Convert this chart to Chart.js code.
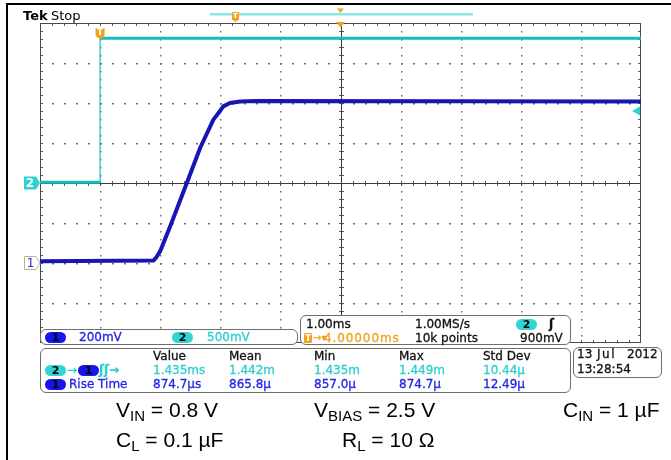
<!DOCTYPE html>
<html><head><meta charset="utf-8">
<script src="https://cdn.jsdelivr.net/npm/chart.js@4.4.1/dist/chart.umd.min.js"></script>
<style>
html,body{margin:0;padding:0;background:#fff;}
#wrap{position:relative;width:671px;height:460px;overflow:hidden;background:#fff;}
#c{position:absolute;left:0;top:0;}
.frame{position:absolute;left:6px;top:3px;width:700px;height:500px;border-top:2px solid #000;border-left:2px solid #000;}
.t{position:absolute;font-family:"DejaVu Sans",sans-serif;font-size:12px;line-height:14px;white-space:pre;-webkit-text-stroke:0.3px currentColor;}
.box{position:absolute;border:1px solid #6e6e6e;border-radius:6px;background:#fff;box-sizing:border-box;}
.pill{position:absolute;height:11px;border-radius:6px;text-align:center;color:#000;font-family:"DejaVu Sans",sans-serif;font-weight:bold;font-size:11px;line-height:11px;}
.ann{position:absolute;font-family:"Liberation Sans",Arial,sans-serif;font-size:21px;line-height:24px;white-space:pre;color:#000;}
.ann .s{font-size:15px;position:relative;top:4px;}
</style></head>
<body><div id="wrap"><div class="frame"></div><canvas id="c" width="671" height="460"></canvas></div>
<script>
// ---------- values ----------
const ch1TimeMs = [-1, 0.887, 0.94, 0.998, 1.165, 1.443, 1.664, 1.885, 1.97, 2.05, 2.16, 2.33, 2.6, 9];
const ch1Volts  = [0.009, 0.012, 0.03, 0.058, 0.183, 0.40, 0.575, 0.717, 0.75, 0.783, 0.80, 0.808, 0.81, 0.808];
const ch2TimeMs = [-1, 0, 0, 9];
const ch2Volts  = [0.008, 0.008, 1.81, 1.81];
const channelScales = ['200mV', '500mV'];
const timebase = ['1.00ms', '1.00MS/s', '4.00000ms', '10k points', '900mV'];
const measHeaders = ['Value', 'Mean', 'Min', 'Max', 'Std Dev'];
const delayValues = ['1.435ms', '1.442m', '1.435m', '1.449m', '10.44\u00b5'];
const riseValues  = ['874.7\u00b5s', '865.8\u00b5', '857.0\u00b5', '874.7\u00b5', '12.49\u00b5'];
const dateLines = ['13', 'Jul', '2012', '13:28:54'];
const condMain = ['V', 'V', 'C', 'C', 'R'];
const condSub  = ['IN', 'BIAS', 'IN', 'L', 'L'];
const condRest = [' = 0.8 V', ' = 2.5 V', ' = 1 \u00b5F', ' = 0.1 \u00b5F', ' = 10 \u03a9'];

// scope settings
const timeMin = -1, timeMax = 9, msPerDiv = 1;
const ch1VPerDiv = 0.2, ch1OffsetDiv = -2;
const ch2VPerDiv = 0.5, ch2OffsetDiv = 0;
const trigLevel = 0.9;

const BLUE_TR = '#1616b2', CYAN_TR = '#17bcbc';
const BLUE_TX = '#2424e8', CYAN_TX = '#2ccfcf', ORANGE = '#f4a11e';

const grat = {
  id: 'grat',
  beforeDatasetsDraw(chart) {
    const {ctx, chartArea: a, scales: {x, y2}} = chart;
    const px = d => x.getPixelForValue(timeMin + d * msPerDiv);
    const py = d => y2.getPixelForValue(d * ch2VPerDiv);
    ctx.save();
    const L = Math.round(a.left), R = Math.round(a.right) - 1, T = Math.round(a.top), B = Math.round(a.bottom) - 1;
    // dotted division lines
    ctx.fillStyle = '#6e6e6e';
    for (let i = 1; i < 10; i++) {
      if (i === 5) continue;
      const X = Math.round(px(i));
      for (let k = -19; k <= 19; k++) ctx.fillRect(X, Math.round(py(k / 5)), 1.5, 1.5);
    }
    for (let j = -3; j <= 3; j++) {
      if (j === 0) continue;
      const Y = Math.round(py(j));
      for (let k = 1; k < 50; k++) ctx.fillRect(Math.round(px(k / 5)), Y, 2, 1.5);
    }
    // ticks on centre lines and edges
    ctx.fillStyle = '#5a5a5a';
    const cx = Math.round(px(5)), cy = Math.round(py(0));
    for (let k = 1; k < 50; k++) {
      const X = Math.round(px(k / 5));
      ctx.fillRect(X, cy - 2, 1, 5);
      ctx.fillRect(X, T, 1, 3);
      ctx.fillRect(X, B - 2, 1, 3);
    }
    for (let k = -19; k <= 19; k++) {
      const Y = Math.round(py(k / 5));
      ctx.fillRect(cx - 2, Y, 5, 1);
      ctx.fillRect(L, Y, 3, 1);
      ctx.fillRect(R - 2, Y, 3, 1);
    }
    // centre lines
    ctx.fillStyle = '#3c3c3c';
    ctx.fillRect(L, cy, R - L + 1, 1);
    ctx.fillRect(cx, T, 1, B - T + 1);
    // border
    ctx.fillStyle = '#4a4a4a';
    ctx.fillRect(L, T, R - L + 1, 1);
    ctx.fillRect(L, B, R - L + 1, 1);
    ctx.fillRect(L, T, 1, B - T + 1);
    ctx.fillRect(R, T, 1, B - T + 1);
    ctx.restore();
  },
  afterDatasetsDraw(chart) {
    const {ctx, scales: {x, y1, y2}} = chart;
    ctx.save();
    // Tek Stop
    ctx.fillStyle = '#000';
    ctx.textBaseline = 'alphabetic';
    ctx.font = 'bold 13px "DejaVu Sans"';
    ctx.fillText('Tek', 23, 20);
    ctx.font = '13px "DejaVu Sans"';
    ctx.fillText('Stop', 51, 20);
    // record view bar
    ctx.fillStyle = '#8fe6e6';
    ctx.fillRect(210, 13, 263, 2.5);
    // small trigger T in bar
    ctx.fillStyle = ORANGE;
    ctx.fillRect(232, 12, 7, 8);
    ctx.beginPath(); ctx.moveTo(233, 20); ctx.lineTo(238, 20); ctx.lineTo(235.5, 22); ctx.fill();
    ctx.fillStyle = '#fff';
    ctx.font = 'bold 7px "DejaVu Sans"'; ctx.textAlign = 'center'; ctx.textBaseline = 'middle';
    ctx.fillText('T', 235.5, 16.2);
    // expansion point triangles
    const cX = x.getPixelForValue(timeMin + 5 * msPerDiv);
    ctx.fillStyle = ORANGE;
    ctx.beginPath(); ctx.moveTo(cX - 3.5, 8.5); ctx.lineTo(cX + 3.5, 8.5); ctx.lineTo(cX, 13); ctx.fill();
    ctx.beginPath(); ctx.moveTo(cX - 4.5, 22); ctx.lineTo(cX + 4.5, 22); ctx.lineTo(cX, 27.5); ctx.fill();
    // trigger marker on the step
    const tX = x.getPixelForValue(0);
    ctx.fillStyle = ORANGE;
    ctx.beginPath();
    ctx.moveTo(tX - 4.5, 28); ctx.lineTo(tX + 4.5, 28); ctx.lineTo(tX + 4.5, 36);
    ctx.lineTo(tX, 39.5); ctx.lineTo(tX - 4.5, 36); ctx.closePath(); ctx.fill();
    ctx.fillStyle = '#fff'; ctx.font = 'bold 9px "DejaVu Sans"';
    ctx.fillText('T', tX, 32.5);
    // ch2 ground marker
    let Y = y2.getPixelForValue(0);
    ctx.fillStyle = '#2fd2d2';
    ctx.beginPath();
    ctx.moveTo(24, Y - 6.5); ctx.lineTo(36, Y - 6.5); ctx.lineTo(40, Y); ctx.lineTo(36, Y + 6.5); ctx.lineTo(24, Y + 6.5);
    ctx.closePath(); ctx.fill();
    ctx.fillStyle = '#fff'; ctx.font = 'bold 12px "DejaVu Sans"';
    ctx.fillText('2', 30, Y + 0.5);
    // ch1 ground marker
    Y = y1.getPixelForValue(0);
    ctx.fillStyle = '#fff'; ctx.strokeStyle = '#b8b48c'; ctx.lineWidth = 1;
    ctx.beginPath();
    ctx.moveTo(24.5, Y - 6.5); ctx.lineTo(36, Y - 6.5); ctx.lineTo(40, Y); ctx.lineTo(36, Y + 6.5); ctx.lineTo(24.5, Y + 6.5);
    ctx.closePath(); ctx.fill(); ctx.stroke();
    ctx.fillStyle = '#2a2ad6'; ctx.font = '12px "DejaVu Sans"';
    ctx.fillText('1', 30.5, Y + 0.5);
    // trigger level marker
    Y = y2.getPixelForValue(trigLevel);
    const rX = x.getPixelForValue(timeMax);
    ctx.fillStyle = '#2fd2d2';
    ctx.beginPath(); ctx.moveTo(rX - 9, Y); ctx.lineTo(rX - 1, Y - 4.5); ctx.lineTo(rX - 1, Y + 4.5); ctx.closePath(); ctx.fill();
    ctx.restore();
  }
};

new Chart(document.getElementById('c'), {
  type: 'line',
  data: {
    datasets: [
      {
        label: 'Ch1', yAxisID: 'y1',
        data: ch1TimeMs.map((t, i) => ({x: t, y: ch1Volts[i]})),
        borderColor: BLUE_TR, borderWidth: 4, pointRadius: 0, tension: 0, borderJoinStyle: 'round'
      },
      {
        label: 'Ch2', yAxisID: 'y2',
        data: ch2TimeMs.map((t, i) => ({x: t, y: ch2Volts[i]})),
        borderColor: CYAN_TR, borderWidth: 3, pointRadius: 0, tension: 0,
        segment: { borderWidth: c => (c.p0.parsed.x === c.p1.parsed.x ? 1.2 : 3) }
      }
    ]
  },
  options: {
    responsive: false, animation: false, devicePixelRatio: 1,
    layout: { padding: { left: 40, right: 30, top: 23, bottom: 117 } },
    scales: {
      x: { type: 'linear', min: timeMin, max: timeMax, display: false },
      y1: { type: 'linear', min: (-4 - ch1OffsetDiv) * ch1VPerDiv, max: (4 - ch1OffsetDiv) * ch1VPerDiv, display: false },
      y2: { type: 'linear', min: (-4 - ch2OffsetDiv) * ch2VPerDiv, max: (4 - ch2OffsetDiv) * ch2VPerDiv, display: false }
    },
    plugins: { legend: { display: false }, tooltip: { enabled: false } }
  },
  plugins: [grat]
});

// ---------- readouts (real text) ----------
const wrap = document.getElementById('wrap');
function box(l, t, w, h) { const d = document.createElement('div'); d.className = 'box'; Object.assign(d.style, {left: l + 'px', top: t + 'px', width: w + 'px', height: h + 'px'}); wrap.appendChild(d); return d; }
function txt(x, yc, s, color, extra) { const d = document.createElement('div'); d.className = 't'; d.textContent = s; Object.assign(d.style, {left: x + 'px', top: (yc - 7) + 'px', color: color}, extra || {}); wrap.appendChild(d); return d; }
function pill(x, yc, s, bg) { const d = document.createElement('div'); d.className = 'pill'; d.textContent = s; Object.assign(d.style, {left: x + 'px', top: (yc - 5.5) + 'px', width: '21px', background: bg}); wrap.appendChild(d); return d; }

// channel scale box
box(40, 329, 258, 16);
pill(45, 337, '1', '#1616ea'); txt(79, 337, channelScales[0], BLUE_TX);
pill(172, 337, '2', '#33d4d4'); txt(207, 337, channelScales[1], CYAN_TX);
// timebase box
box(300, 315, 271, 30);
txt(306, 323.5, timebase[0], '#111');
txt(415, 323.5, timebase[1], '#111');
pill(516, 324.5, '2', '#33d4d4');
txt(549, 323.5, '\u0283', '#111', {fontWeight: 'bold'});
const tb = document.createElement('div');
tb.className = 'pill';
Object.assign(tb.style, {left: '304px', top: '333px', width: '8px', height: '10px', borderRadius: '1px', background: ORANGE, color: '#fff', fontSize: '9px', lineHeight: '10px'});
tb.textContent = 'T'; wrap.appendChild(tb);
txt(313, 338, '\u2192\u25be', ORANGE, {fontSize: '10px'});
txt(324, 338, timebase[2], ORANGE, {letterSpacing: '0.9px'});
txt(415, 338, timebase[3], '#111');
txt(520, 338, timebase[4], '#111');
// measurement box
box(40, 348, 531, 45);
const colX = [153, 229, 314, 399, 483];
measHeaders.forEach((h, i) => txt(colX[i], 356, h, '#111'));
pill(45, 370, '2', '#33d4d4'); txt(67, 370, '\u2192', CYAN_TX);
pill(78, 370, '1', '#1616ea'); txt(99, 370, '\u0283\u0283\u2192', CYAN_TX, {fontWeight: 'bold'});
delayValues.forEach((v, i) => txt(colX[i], 370, v, CYAN_TX));
pill(45, 384, '1', '#1616ea'); txt(69, 384, 'Rise Time', BLUE_TX);
riseValues.forEach((v, i) => txt(colX[i], 384, v, BLUE_TX));
// date box
box(573, 347, 89, 31);
txt(577, 354, dateLines[0], '#111');
txt(597, 354, dateLines[1], '#111', {letterSpacing: '1.5px'});
txt(627, 354, dateLines[2], '#111');
txt(577, 369, dateLines[3], '#111');

// ---------- test conditions ----------
const condX = [116, 314, 563, 116, 342];
const condTop = [398, 398, 398, 428, 428];
condMain.forEach((m, i) => {
  const d = document.createElement('div'); d.className = 'ann';
  d.style.left = condX[i] + 'px'; d.style.top = condTop[i] + 'px';
  d.appendChild(document.createTextNode(m));
  const s = document.createElement('span'); s.className = 's'; s.textContent = condSub[i]; d.appendChild(s);
  d.appendChild(document.createTextNode(condRest[i]));
  wrap.appendChild(d);
});
</script>
</body></html>
